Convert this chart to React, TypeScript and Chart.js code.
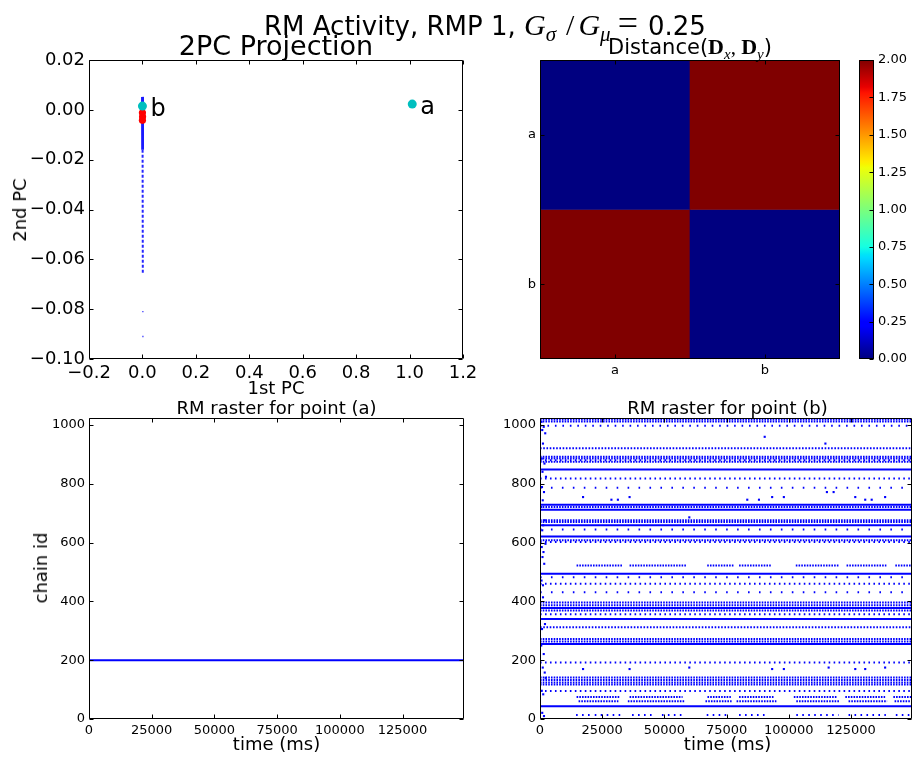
import { useEffect, useRef } from "react";
import { Chart, registerables } from "chart.js";

Chart.register(...registerables);

const SANS = "DejaVu Sans";
const SERIF = "Liberation Serif";
const BLUE = "#0000ff";
const CYAN = "#00bfbf";
const RED = "#ff0000";

/* ---------- 2PC projection ---------- */
const pcXTicks = [-0.2, 0.0, 0.2, 0.4, 0.6, 0.8, 1.0, 1.2];
const pcYTicks = [-0.1, -0.08, -0.06, -0.04, -0.02, 0.0, 0.02];
const pcLabeledNames = ["a", "b"];
const pcLabeledX = [1.01, 0.0];
const pcLabeledY = [0.0023, 0.0015];
const pcRedX = [0.0, 0.0005, 0.0];
const pcRedY = [-0.0012, -0.0028, -0.0042];
const pcTraceHeadX = [0.0, 0.0006];
const pcTraceHeadY = [0.0052, -0.016];
const pcTraceTailX = [0.0006, 0.0014];
const pcTraceTailY = [-0.016, -0.066];
const pcStrayX = [0.0016, 0.0018];
const pcStrayY = [-0.081, -0.091];

/* ---------- pairwise distance ---------- */
const distNames = ["a", "b"];
const distMatrix = [
  [0.0, 2.0],
  [2.0, 0.0],
];
const distMin = 0;
const distMax = 2;
const colorbarTicks = [0, 0.25, 0.5, 0.75, 1.0, 1.25, 1.5, 1.75, 2.0];

/* ---------- rasters ---------- */
type Seg = [number, number];
type Row = [number, number, Seg[]]; // chain id, inter-spike interval (ms), active spans (ms)

const timeMax = 149500;
const chainMax = 1024;
const timeTicks = [0, 25000, 50000, 75000, 100000, 125000];
const chainTicks = [0, 200, 400, 600, 800, 1000];
const FULL: Seg[] = [[0, 149500]];

const rasterARows: Row[] = [[200, 300, FULL]];

const gappedSpans: Seg[] = [
  [14700, 33200], [36000, 58700], [67200, 78000], [80000, 93200],
  [102800, 120000], [123200, 139200], [142800, 149500],
];
const lowSpans: Seg[] = [
  [14700, 32000], [36000, 57300], [67300, 76700], [80000, 94000],
  [102000, 119300], [122700, 138700], [142000, 149500],
];
const lowSpans2: Seg[] = [
  [15500, 31500], [35300, 58000], [66500, 77000], [79000, 95000],
  [103000, 120500], [124000, 139500], [142500, 149500],
];
const baseSpans: Seg[] = [
  [14500, 20000], [22000, 34000], [37000, 46000], [49000, 58000],
  [67000, 76000], [80000, 92000], [103000, 120000], [124000, 139000], [143000, 149500],
];

const rasterBRows: Row[] = [
  [1019, 1100, FULL],
  [1012, 1100, FULL],
  [998, 3000, FULL],
  [921, 1300, FULL],
  [892, 1100, FULL],
  [886, 1100, FULL],
  [880, 2000, FULL],
  [875, 1100, FULL],
  [849, 400, FULL],
  [818, 2000, FULL],
  [787, 4400, FULL],
  [729, 400, FULL],
  [721, 1100, FULL],
  [712, 400, FULL],
  [676, 1100, FULL],
  [670, 1100, FULL],
  [659, 400, FULL],
  [645, 4400, FULL],
  [621, 400, FULL],
  [608, 1100, FULL],
  [602, 2000, FULL],
  [522, 1100, gappedSpans],
  [494, 400, FULL],
  [482, 4400, FULL],
  [460, 2000, FULL],
  [431, 4400, FULL],
  [396, 1100, FULL],
  [387, 1100, FULL],
  [378, 400, FULL],
  [369, 1100, FULL],
  [356, 2000, FULL],
  [340, 400, FULL],
  [312, 1300, FULL],
  [272, 1100, FULL],
  [264, 1100, FULL],
  [255, 400, FULL],
  [192, 2000, FULL],
  [141, 1100, FULL],
  [133, 1100, FULL],
  [124, 1100, FULL],
  [117, 1100, FULL],
  [95, 2000, FULL],
  [75, 1100, lowSpans],
  [60, 1100, lowSpans2],
  [43, 400, FULL],
  [14, 2400, baseSpans],
];

// single spikes: start-up transient and isolated events
const rasterBSpikeT = [
  600, 1500, 900, 2100, 1200, 700, 1800, 1000, 2400, 800, 1600, 1100, 500, 1900, 1300, 900, 2200, 700,
  1400, 1000, 1700, 600, 1200, 2000, 800, 1500, 1100, 1900, 700, 1300, 900, 1600, 1200, 500, 2300,
  90300, 114700, 115300, 83300, 88000, 93300, 98000, 118000, 126700, 130700, 133300, 138700, 17300,
  28700, 31300, 36000, 93300, 98000, 116000, 126700, 130700, 138700, 17300, 36000, 60000, 60000,
];
const rasterBSpikeId = [
  1011, 994, 983, 972, 937, 886, 869, 841, 824, 789, 772, 744, 721, 676, 659, 642, 596, 585, 568, 551,
  528, 471, 414, 323, 306, 221, 175, 158, 96, 84, 21, 10, 455, 250, 140,
  960, 937, 772, 746, 746, 755, 755, 772, 755, 746, 746, 755, 755, 746, 746, 755, 170, 170, 175, 170,
  170, 175, 170, 170, 175, 686,
];

/* ---------- jet colormap ---------- */
const jetR = [[0, 0], [0.35, 0], [0.66, 1], [0.89, 1], [1, 0.5]];
const jetG = [[0, 0], [0.125, 0], [0.375, 1], [0.64, 1], [0.91, 0], [1, 0]];
const jetB = [[0, 0.5], [0.11, 1], [0.34, 1], [0.65, 0], [1, 0]];
const jetStops = [0, 0.11, 0.125, 0.34, 0.35, 0.375, 0.64, 0.65, 0.66, 0.89, 0.91, 1];

function channel(pts: number[][], t: number) {
  for (let i = 1; i < pts.length; i++) {
    if (t <= pts[i][0]) {
      const [t0, v0] = pts[i - 1];
      const [t1, v1] = pts[i];
      return v0 + ((v1 - v0) * (t - t0)) / (t1 - t0);
    }
  }
  return pts[pts.length - 1][1];
}
function jet(t: number) {
  const c = Math.max(0, Math.min(1, t));
  const r = Math.round(channel(jetR, c) * 255);
  const g = Math.round(channel(jetG, c) * 255);
  const b = Math.round(channel(jetB, c) * 255);
  return `rgb(${r},${g},${b})`;
}

/* ---------- helpers ---------- */
const signed = (v: number, d: number) =>
  (Math.abs(v) < 1e-12 ? 0 : v).toFixed(d).replace("-", "\u2212");

type AxisSpec = {
  kind: "x" | "y";
  type?: string;
  min?: number;
  max?: number;
  ticks: number[];
  label: (v: number) => string;
  fontSize: number;
  size: number;
  position?: string;
  reverse?: boolean;
};

function axis(a: AxisSpec) {
  const o: any = {
    type: a.type ?? "linear",
    position: a.position ?? (a.kind === "x" ? "bottom" : "left"),
    reverse: !!a.reverse,
    grid: { display: false, drawTicks: false },
    border: { display: false },
    afterBuildTicks: (s: any) => {
      s.ticks = a.ticks.map((value) => ({ value }));
    },
    afterFit: (s: any) => {
      if (a.kind === "x") s.height = a.size;
      else s.width = a.size;
      s.paddingLeft = 0;
      s.paddingRight = 0;
      s.paddingTop = 0;
      s.paddingBottom = 0;
    },
    ticks: {
      autoSkip: false,
      maxRotation: 0,
      minRotation: 0,
      padding: 4,
      color: "#000",
      font: { family: SANS, size: a.fontSize },
      callback: (v: any) => a.label(Number(v)),
    },
  };
  if (a.min !== undefined) o.min = a.min;
  if (a.max !== undefined) o.max = a.max;
  return o;
}

// matplotlib-style box: black spines with inward tick marks
const axesFrame = {
  id: "axesFrame",
  afterDatasetsDraw(chart: any, _args: any, o: any) {
    const { ctx, chartArea: a } = chart;
    const L = Math.round(a.left) + 0.5;
    const R = Math.round(a.right) - 0.5;
    const T = Math.round(a.top) + 0.5;
    const B = Math.round(a.bottom) - 0.5;
    const len = o.len ?? 4;
    const xs = chart.scales.x;
    const ys = chart.scales.y;
    ctx.save();
    ctx.strokeStyle = "#000";
    ctx.lineWidth = 1;
    ctx.beginPath();
    if (xs && o.x) {
      xs.ticks.forEach((_t: any, i: number) => {
        const p = Math.round(xs.getPixelForTick(i)) + 0.5;
        if (o.x.includes("bottom")) { ctx.moveTo(p, B); ctx.lineTo(p, B - len); }
        if (o.x.includes("top")) { ctx.moveTo(p, T); ctx.lineTo(p, T + len); }
      });
    }
    if (ys && o.y) {
      ys.ticks.forEach((_t: any, i: number) => {
        const p = Math.round(ys.getPixelForTick(i)) + 0.5;
        if (o.y.includes("left")) { ctx.moveTo(L, p); ctx.lineTo(L + len, p); }
        if (o.y.includes("right")) { ctx.moveTo(R, p); ctx.lineTo(R - len, p); }
      });
    }
    ctx.rect(L, T, R - L, B - T);
    ctx.stroke();
    ctx.restore();
  },
};

// names next to the labelled points of the projection
const pointNames = {
  id: "pointNames",
  afterDatasetsDraw(chart: any) {
    const { ctx } = chart;
    const xs = chart.scales.x;
    const ys = chart.scales.y;
    ctx.save();
    ctx.font = `24px ${SANS}`;
    ctx.fillStyle = "#000";
    ctx.textBaseline = "alphabetic";
    pcLabeledNames.forEach((n, i) => {
      ctx.fillText(n, xs.getPixelForValue(pcLabeledX[i]) + 8, ys.getPixelForValue(pcLabeledY[i]) + 10);
    });
    ctx.restore();
  },
};

function base(padding: any) {
  return {
    animation: false,
    responsive: false,
    events: [],
    layout: { padding },
  };
}

const pts = (xs: number[], ys: number[]) => xs.map((x, i) => ({ x, y: ys[i] }));

function pcConfig() {
  return {
    type: "scatter",
    data: {
      datasets: [
        { data: pts(pcLabeledX, pcLabeledY), backgroundColor: CYAN, borderWidth: 0, pointRadius: 4.5 },
        { data: pts(pcRedX, pcRedY), backgroundColor: RED, borderWidth: 0, pointRadius: 3.6 },
        {
          data: pts(pcTraceHeadX, pcTraceHeadY), showLine: true, borderColor: "rgba(0,0,255,0.9)",
          borderWidth: 2.8, pointRadius: 0,
        },
        {
          data: pts(pcTraceTailX, pcTraceTailY), showLine: true, borderColor: "rgba(0,0,255,0.85)",
          borderWidth: 2, borderDash: [3, 2], pointRadius: 0,
        },
        {
          data: pts(pcStrayX, pcStrayY), backgroundColor: "rgba(0,0,255,0.7)", borderWidth: 0,
          pointRadius: 1, pointStyle: "rect",
        },
      ],
    },
    options: {
      ...base({ left: 0, top: 20, right: 17, bottom: 11 }),
      scales: {
        x: axis({ kind: "x", min: -0.2, max: 1.2, ticks: pcXTicks, label: (v) => signed(v, 1), fontSize: 18, size: 30 }),
        y: axis({ kind: "y", min: -0.1, max: 0.02, ticks: pcYTicks, label: (v) => signed(v, 2), fontSize: 18, size: 89 }),
      },
      plugins: {
        legend: { display: false },
        tooltip: { enabled: false },
        axesFrame: { x: ["bottom", "top"], y: ["left", "right"], len: 4 },
      },
    },
    plugins: [axesFrame, pointNames],
  };
}

function distConfig() {
  return {
    type: "bar",
    data: {
      labels: distNames,
      datasets: distNames.map((_row, r) => ({
        data: distNames.map(() => [r, r + 1]),
        backgroundColor: distMatrix[r].map((v) => jet((v - distMin) / (distMax - distMin))),
        borderWidth: 0,
        barPercentage: 1,
        categoryPercentage: 1,
        grouped: false,
      })),
    },
    options: {
      ...base({ left: 0, top: 20, right: 10, bottom: 11 }),
      scales: {
        x: axis({ kind: "x", type: "category", ticks: [0, 1], label: (i) => distNames[i], fontSize: 13, size: 30 }),
        y: axis({
          kind: "y", min: 0, max: distNames.length, reverse: true,
          ticks: distNames.map((_n, i) => i + 0.5), label: (v) => distNames[Math.floor(v)],
          fontSize: 13, size: 40,
        }),
      },
      plugins: {
        legend: { display: false },
        tooltip: { enabled: false },
        axesFrame: { x: ["bottom", "top"], y: ["left", "right"], len: 4 },
      },
    },
    plugins: [axesFrame],
  };
}

function colorbarFill(ctx: any) {
  const chart = ctx.chart;
  const y = chart.scales.y;
  if (!y || !chart.chartArea) return jet(0.5);
  const g = chart.ctx.createLinearGradient(0, y.getPixelForValue(distMin), 0, y.getPixelForValue(distMax));
  jetStops.forEach((t) => g.addColorStop(t, jet(t)));
  return g;
}

function colorbarConfig() {
  return {
    type: "bar",
    data: {
      labels: [""],
      datasets: [{
        data: [[distMin, distMax]], backgroundColor: colorbarFill, borderWidth: 0,
        barPercentage: 1, categoryPercentage: 1,
      }],
    },
    options: {
      ...base({ left: 7, top: 20, right: 0, bottom: 41 }),
      scales: {
        x: { display: false },
        y: axis({
          kind: "y", position: "right", min: distMin, max: distMax, ticks: colorbarTicks,
          label: (v) => v.toFixed(2), fontSize: 13, size: 42,
        }),
      },
      plugins: {
        legend: { display: false },
        tooltip: { enabled: false },
        axesFrame: { y: ["right"], len: 4 },
      },
    },
    plugins: [axesFrame],
  };
}

// dash pattern that spaces the spike marks by the row's inter-spike interval
function spikeDash(chart: any, isi: number) {
  const s = chart.scales.x;
  if (!s) return [];
  const step = Math.abs(s.getPixelForValue(isi) - s.getPixelForValue(0));
  return step < 2.4 ? [] : [1.6, step - 1.6];
}

function rasterConfig(rows: Row[], spikeT: number[], spikeId: number[], yWidth: number, padRight: number) {
  const rowSets = rows.map(([id, isi, spans]) => ({
    data: spans.flatMap(([t0, t1]) => [{ x: t0, y: id }, { x: t1, y: id }, { x: t1, y: null }]),
    borderColor: BLUE,
    borderWidth: 2,
    borderCapStyle: "butt",
    pointRadius: 0,
    spanGaps: false,
    tension: 0,
    borderDash: (ctx: any) => spikeDash(ctx.chart, isi),
  }));
  const datasets: any[] = [...rowSets];
  if (spikeT.length) {
    datasets.push({
      data: pts(spikeT, spikeId), showLine: false, pointStyle: "rect", pointRadius: 1.5,
      pointBackgroundColor: BLUE, pointBorderWidth: 0,
    });
  }
  return {
    type: "line",
    data: { datasets },
    options: {
      ...base({ left: 0, top: 18, right: padRight, bottom: 11 }),
      scales: {
        x: axis({ kind: "x", min: 0, max: timeMax, ticks: timeTicks, label: (v) => String(v), fontSize: 13, size: 30 }),
        y: axis({ kind: "y", min: 0, max: chainMax, ticks: chainTicks, label: (v) => String(v), fontSize: 13, size: yWidth }),
      },
      plugins: {
        legend: { display: false },
        tooltip: { enabled: false },
        axesFrame: { x: ["bottom", "top"], y: ["left", "right"], len: 4 },
      },
    },
    plugins: [axesFrame],
  };
}

const abs = (left: number, top: number, width: number, height: number): any => ({
  position: "absolute", left, top, width, height, display: "block",
});

const centered = (x: number, top: number, size: number): any => ({
  position: "absolute", left: x, top, transform: "translateX(-50%)", fontSize: size,
  lineHeight: 1, whiteSpace: "nowrap", fontFamily: SANS,
});

const vertical = (x: number, y: number, size: number): any => ({
  position: "absolute", left: x, top: y, transform: "translate(-50%,-50%) rotate(-90deg)",
  fontSize: size, lineHeight: 1, whiteSpace: "nowrap", fontFamily: SANS,
});

const mathIt: any = { fontFamily: SERIF, fontStyle: "italic", fontSize: 30, lineHeight: 0 };
const mathUp: any = { fontFamily: SERIF, fontSize: 30, lineHeight: 0 };
const mathSub: any = { fontFamily: SERIF, fontStyle: "italic", fontSize: 21, lineHeight: 0, position: "relative", top: 6 };
const titleBold: any = { fontFamily: SERIF, fontWeight: "bold", fontSize: 22, lineHeight: 0 };
const titleSub: any = { fontFamily: SERIF, fontStyle: "italic", fontSize: 15, lineHeight: 0, position: "relative", top: 5 };

export default function App() {
  const pcRef = useRef<HTMLCanvasElement | null>(null);
  const distRef = useRef<HTMLCanvasElement | null>(null);
  const cbRef = useRef<HTMLCanvasElement | null>(null);
  const raRef = useRef<HTMLCanvasElement | null>(null);
  const rbRef = useRef<HTMLCanvasElement | null>(null);

  useEffect(() => {
    document.body.style.margin = "0";
    document.body.style.background = "#fff";
    const charts = [
      new Chart(pcRef.current!, pcConfig() as any),
      new Chart(distRef.current!, distConfig() as any),
      new Chart(cbRef.current!, colorbarConfig() as any),
      new Chart(raRef.current!, rasterConfig(rasterARows, [], [], 89, 16) as any),
      new Chart(rbRef.current!, rasterConfig(rasterBRows, rasterBSpikeT, rasterBSpikeId, 40, 1) as any),
    ];
    return () => charts.forEach((c) => c.destroy());
  }, []);

  return (
    <div style={{ position: "relative", width: 916, height: 760, background: "#fff", overflow: "hidden", color: "#000" }}>
      <canvas ref={pcRef} width={480} height={360} style={abs(0, 40, 480, 360)} />
      <canvas ref={distRef} width={350} height={360} style={abs(500, 40, 350, 360)} />
      <canvas ref={cbRef} width={64} height={360} style={abs(852, 40, 64, 360)} />
      <canvas ref={raRef} width={480} height={360} style={abs(0, 400, 480, 360)} />
      <canvas ref={rbRef} width={416} height={360} style={abs(500, 400, 416, 360)} />

      <div style={{ position: "absolute", left: 264, top: 13, fontSize: 26, lineHeight: "26px", whiteSpace: "nowrap", fontFamily: SANS }}>
        RM Activity, RMP 1,{" "}
        <span style={mathIt}>G</span>
        <span style={{ ...mathSub, marginRight: 6 }}>σ</span>
        <span style={{ ...mathUp, margin: "0 4px" }}>/</span>
        <span style={mathIt}>G</span>
        <span style={mathSub}>μ</span>
        <span style={{ ...mathUp, fontSize: 36, margin: "0 10px 0 7px" }}>=</span>
        0.25
      </div>
      <div style={centered(276, 32, 27)}>2PC Projection</div>
      <div style={centered(690, 37, 21)}>
        Distance(
        <span style={titleBold}>D</span>
        <span style={titleSub}>x</span>
        <span style={{ fontFamily: SERIF, fontSize: 21, lineHeight: 0 }}>, </span>
        <span style={titleBold}>D</span>
        <span style={titleSub}>y</span>)
      </div>
      <div style={centered(276, 379, 18)}>1st PC</div>
      <div style={vertical(20, 210, 18)}>2nd PC</div>
      <div style={centered(276.5, 399, 18)}>RM raster for point (a)</div>
      <div style={centered(727.5, 399, 18)}>RM raster for point (b)</div>
      <div style={vertical(41, 568, 18)}>chain id</div>
      <div style={centered(276.5, 735, 18)}>time (ms)</div>
      <div style={centered(727.5, 735, 18)}>time (ms)</div>
    </div>
  );
}
